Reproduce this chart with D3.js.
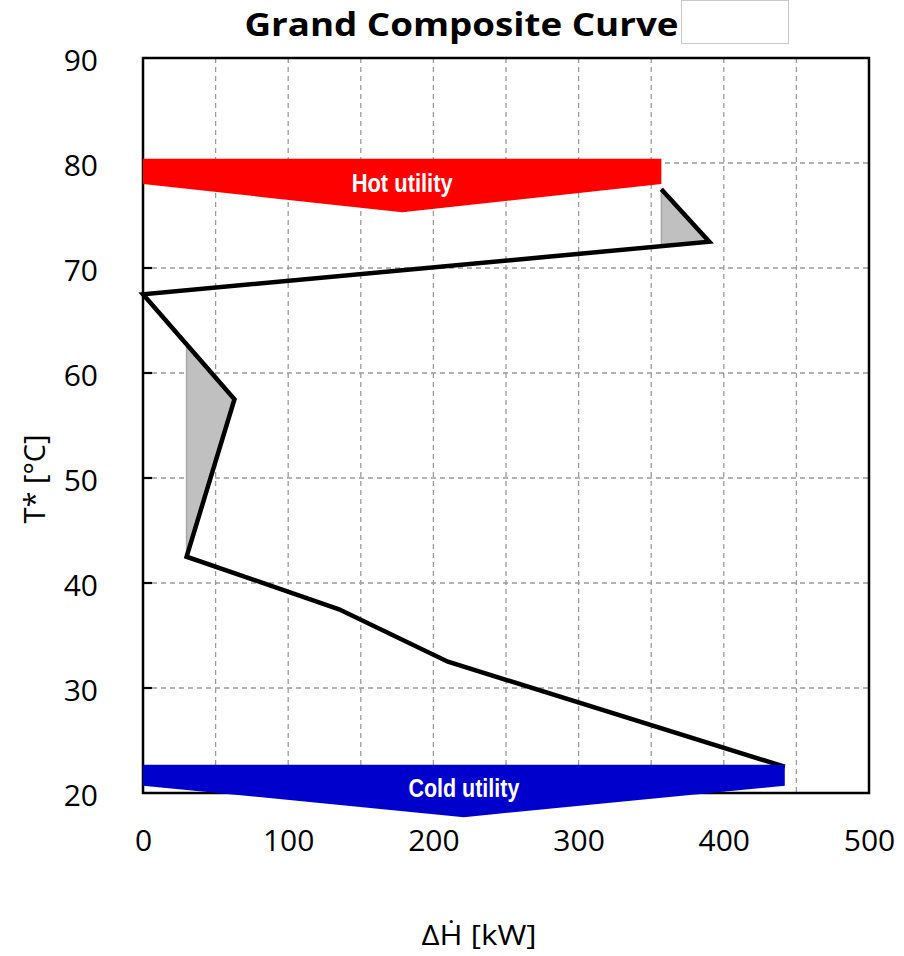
<!DOCTYPE html>
<html>
<head>
<meta charset="utf-8">
<script src="https://cdn.jsdelivr.net/npm/d3@7"></script>
<style>
  html, body { margin: 0; padding: 0; background: #fff; }
  svg { display: block; }
</style>
</head>
<body>
<svg id="chart" width="904" height="956"></svg>
<script>
// Grand composite curve: shifted temperature vs. net heat flow
const gccDuty = [357, 390, 0, 63, 30, 135, 210, 442];          // kW
const gccTemp = [77.5, 72.5, 67.5, 57.5, 42.5, 37.5, 32.5, 22.5]; // °C

// Heat-recovery pockets (shaded)
const pocket1Duty = [357, 390, 357];
const pocket1Temp = [77.5, 72.5, 72.1];
const pocket2Duty = [30, 63, 30];
const pocket2Temp = [62.7, 57.5, 42.5];

// Minimum utilities
const hotUtility = 357;   // kW
const coldUtility = 442;  // kW

const xTicks = [0, 100, 200, 300, 400, 500];
const yTicks = [20, 30, 40, 50, 60, 70, 80, 90];
const xGrid = [50, 100, 150, 200, 250, 300, 350, 400, 450];
const yGrid = [30, 40, 50, 60, 70, 80];

(function draw() {
  const svg = d3.select("#chart");
  const pL = 143, pR = 869, pT = 58, pB = 793;

  const x = d3.scaleLinear().domain([0, 500]).range([pL, pR]);
  const y = d3.scaleLinear().domain([20, 90]).range([pB, pT]);

  const uiFont = "'Open Sans', 'Noto Sans', sans-serif";

  // grid
  const grid = svg.append("g").attr("stroke", "#9a9a9a").attr("stroke-width", 1.3)
    .attr("stroke-dasharray", "5,4");
  grid.selectAll("line.v").data(xGrid).join("line").attr("class", "v")
    .attr("x1", d => x(d)).attr("x2", d => x(d)).attr("y1", pT).attr("y2", pB);
  grid.selectAll("line.h").data(yGrid).join("line").attr("class", "h")
    .attr("y1", d => y(d)).attr("y2", d => y(d)).attr("x1", pL).attr("x2", pR);

  // axes (labels only; frame drawn separately)
  const xAxis = d3.axisBottom(x).tickValues(xTicks).tickSize(0).tickPadding(0);
  const gx = svg.append("g").attr("transform", `translate(0,${pB})`).call(xAxis);
  gx.select(".domain").remove();
  gx.selectAll("text").attr("y", 58).attr("dy", 0)
    .style("font-family", uiFont).style("font-size", "30px").attr("fill", "#000");

  const yAxis = d3.axisLeft(y).tickValues(yTicks).tickSize(0).tickPadding(0);
  const gy = svg.append("g").attr("transform", `translate(${pL},0)`).call(yAxis);
  gy.select(".domain").remove();
  gy.selectAll("text").attr("x", -45).attr("dy", "0.40em")
    .style("font-family", uiFont).style("font-size", "30px").attr("fill", "#000");

  // inward ticks on the temperature axis
  svg.append("g").selectAll("line").data(yTicks.slice(1, -1)).join("line")
    .attr("x1", pL).attr("x2", pL + 9).attr("y1", d => y(d)).attr("y2", d => y(d))
    .attr("stroke", "#000").attr("stroke-width", 2.2);

  // frame
  svg.append("rect").attr("x", pL).attr("y", pT)
    .attr("width", pR - pL).attr("height", pB - pT)
    .attr("fill", "none").attr("stroke", "#000").attr("stroke-width", 2.5);

  // pockets
  const pts = (hs, ts) => hs.map((h, i) => [x(h), y(ts[i])]);
  const poly = d3.line();
  [[pocket1Duty, pocket1Temp], [pocket2Duty, pocket2Temp]].forEach(([hs, ts]) => {
    svg.append("path").attr("d", poly(pts(hs, ts)) + "Z")
      .attr("fill", "#c0c0c0").attr("stroke", "#a8a8a8").attr("stroke-width", 1.5);
  });

  // GCC line
  svg.append("path").attr("d", poly(pts(gccDuty, gccTemp)))
    .attr("fill", "none").attr("stroke", "#000").attr("stroke-width", 4.5)
    .attr("stroke-linejoin", "miter").attr("stroke-miterlimit", 10);

  // utility arrows
  function utilityBand(q, tTop, tBottom, tTip, color, label, labelY, labelW) {
    const shape = [[x(0), y(tTop)], [x(q), y(tTop)], [x(q), y(tBottom)],
                   [x(q / 2), y(tTip)], [x(0), y(tBottom)]];
    svg.append("path").attr("d", poly(shape) + "Z").attr("fill", color);
    svg.append("text").attr("x", x(q / 2)).attr("y", labelY)
      .attr("text-anchor", "middle").attr("fill", "#fff")
      .attr("textLength", labelW).attr("lengthAdjust", "spacingAndGlyphs")
      .style("font-family", "'Liberation Sans Narrow', 'Liberation Sans', Arial, sans-serif")
      .style("font-weight", "bold").style("font-size", "25px").text(label);
  }
  utilityBand(hotUtility, 80.4, 78.0, 75.3, "#ff0000", "Hot utility", 191.5, 101);
  utilityBand(coldUtility, 22.7, 20.7, 17.7, "#0000cc", "Cold utility", 797, 111);

  // title
  svg.append("text").attr("x", 461.5).attr("y", 36).attr("text-anchor", "middle")
    .attr("textLength", 434).attr("lengthAdjust", "spacingAndGlyphs")
    .style("font-family", uiFont).style("font-weight", "bold").style("font-size", "33px")
    .attr("fill", "#000").text("Grand Composite Curve");
  svg.append("rect").attr("x", 681.5).attr("y", 0.5).attr("width", 107).attr("height", 43)
    .attr("fill", "#fff").attr("stroke", "#c8c8c8").attr("stroke-width", 1);

  // axis titles
  svg.append("text").attr("x", 479).attr("y", 945).attr("text-anchor", "middle")
    .attr("textLength", 115).attr("lengthAdjust", "spacingAndGlyphs")
    .style("font-family", uiFont).style("font-size", "28px").attr("fill", "#000")
    .text("ΔḢ [kW]");
  svg.append("text").attr("transform", "translate(45,479) rotate(-90)")
    .attr("text-anchor", "middle")
    .style("font-family", uiFont).style("font-size", "29px").attr("fill", "#000")
    .text("T* [°C]");
})();
</script>
</body>
</html>
